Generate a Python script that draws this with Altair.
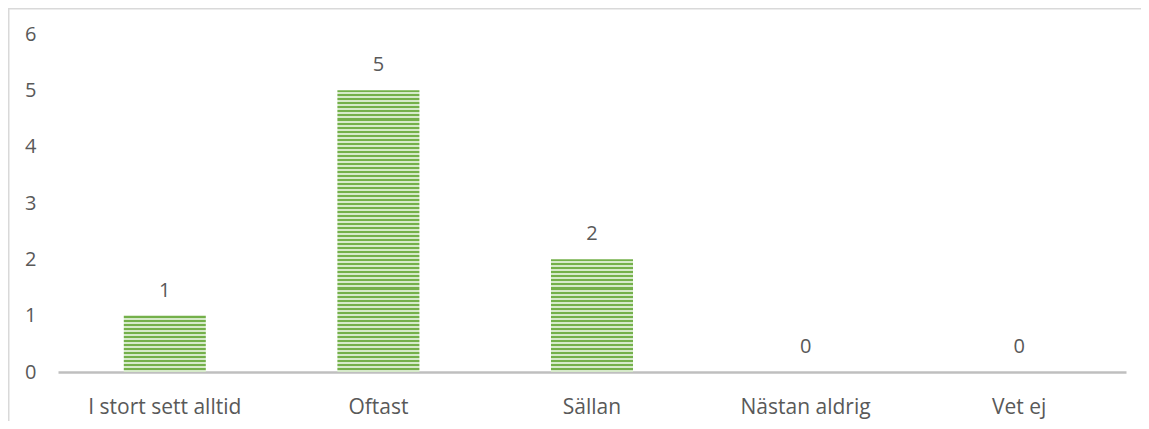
import altair as alt
import pandas as pd

categories = ["I stort sett alltid", "Oftast", "Sällan", "Nästan aldrig", "Vet ej"]
values = [1, 5, 2, 0, 0]
y_ticks = [0, 1, 2, 3, 4, 5, 6]

df = pd.DataFrame({"kategori": categories, "antal": values})

FONT = "Open Sans"
FS = 20
GRAY = "#595959"
DARK = "#74B04A"
LIGHT = "#D6EACA"
BORDER = "#D9D9D9"
STRIPES_PER_UNIT = 14


def stripes(n):
    stops = []
    for i in range(n):
        a = i / n
        b = (i + 0.5) / n
        c = (i + 1) / n
        stops += [
            alt.GradientStop(offset=a, color=DARK),
            alt.GradientStop(offset=b, color=DARK),
            alt.GradientStop(offset=b, color=LIGHT),
            alt.GradientStop(offset=c, color=LIGHT),
        ]
    return alt.Gradient(gradient="linear", stops=stops, x1=0, x2=0, y1=0, y2=1)


x_enc = alt.X(
    "kategori:N",
    sort=categories,
    scale=alt.Scale(paddingInner=0.616, paddingOuter=0.308),
    axis=alt.Axis(
        title=None, labelAngle=0, ticks=False, domain=True,
        domainColor="#BFBFBF", domainWidth=2.5,
        labelFont=FONT, labelFontSize=21, labelColor=GRAY,
        labelPadding=24, grid=False,
    ),
)
y_enc = alt.Y(
    "antal:Q",
    scale=alt.Scale(domain=[0, 6], nice=False),
    axis=alt.Axis(
        title=None, values=y_ticks, ticks=False, domain=False, grid=False,
        labelFont=FONT, labelFontSize=FS, labelColor=GRAY, labelPadding=22,
    ),
)

base = alt.Chart(df)

layers = []
for cat, val in zip(categories, values):
    if val > 0:
        layers.append(
            base.transform_filter(alt.datum.kategori == cat)
            .mark_bar(fill=stripes(int(round(val * STRIPES_PER_UNIT))))
            .encode(x=x_enc, y=y_enc)
        )

labels = base.mark_text(
    dy=-25, font=FONT, fontSize=FS, color=GRAY, baseline="middle"
).encode(x=x_enc, y=y_enc, text=alt.Text("antal:Q"))

one = alt.Chart(pd.DataFrame({"a": [0]}))
top_border = one.mark_rule(color=BORDER, strokeWidth=1.5).encode(
    x=alt.value(-50), x2=alt.value(1200), y=alt.value(-25.25)
)
left_border = one.mark_rule(color=BORDER, strokeWidth=1.5).encode(
    x=alt.value(-49.25), y=alt.value(-26), y2=alt.value(420)
)

chart = alt.layer(*layers, labels, top_border, left_border).properties(
    width=1068,
    height=338,
    padding={"left": 50, "top": 26, "right": 15, "bottom": 49},
    autosize=alt.AutoSizeParams(type="none"),
).configure_view(stroke=None)

chart.save("out.html", embed_options={"renderer": "svg", "actions": False})
